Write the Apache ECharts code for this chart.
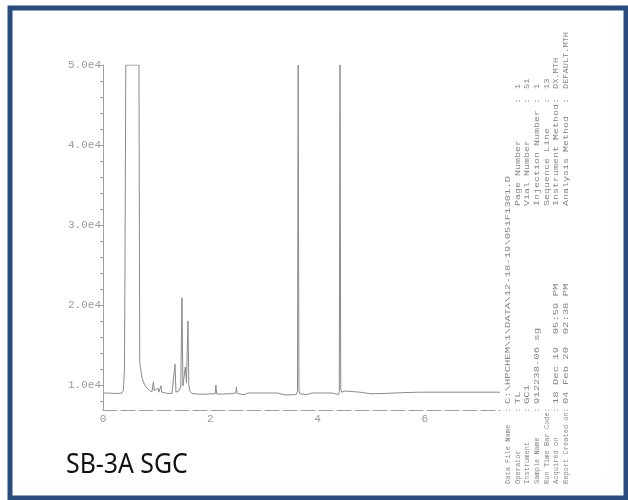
<!DOCTYPE html>
<html>
<head>
<meta charset="utf-8">
<script src="https://cdn.jsdelivr.net/npm/echarts@6/dist/echarts.min.js"></script>
<style>
  html, body { margin: 0; padding: 0; background: #ffffff; }
  #chart { width: 628px; height: 500px; }
</style>
</head>
<body>
<div id="chart"></div>
<script>
// Retention time (min) and detector response of the run
const retentionTime = [
  0.00, 0.10, 0.20, 0.30, 0.354, 0.38, 0.40, 0.41, 0.425, 0.671,
  0.678, 0.685, 0.695, 0.708, 0.725, 0.746, 0.78, 0.82, 0.87, 0.913,
  0.93, 0.94, 0.955, 0.99, 1.025, 1.04, 1.07, 1.081, 1.095, 1.118,
  1.20, 1.286, 1.32, 1.342, 1.36, 1.39, 1.42, 1.45, 1.472, 1.49,
  1.51, 1.534, 1.556, 1.584, 1.60, 1.622, 1.66, 1.70, 1.715, 1.73,
  1.808, 1.90, 1.994, 2.09, 2.105, 2.118, 2.20, 2.30, 2.367, 2.475,
  2.487, 2.50, 2.56, 2.65, 2.70, 2.72, 2.80, 2.82, 2.95, 2.97,
  3.10, 3.12, 3.25, 3.27, 3.40, 3.60, 3.625, 3.638, 3.652, 3.67,
  3.80, 3.895, 3.91, 4.08, 4.095, 4.27, 4.285, 4.39, 4.405, 4.418,
  4.432, 4.45, 4.51, 4.53, 4.60, 4.62, 4.70, 4.72, 4.79, 4.81,
  5.00, 5.26, 5.60, 5.91, 6.30, 6.65, 7.00, 7.40
];
const response = [
  9000, 9000, 8950, 8950, 9000, 9300, 12000, 25000, 50000, 50000,
  30000, 12800, 12250, 11800, 11000, 10500, 10000, 9600, 9300, 9150,
  9300, 10400, 9300, 9150, 9600, 9100, 9100, 9900, 9100, 9000,
  8950, 8950, 9100, 12600, 9100, 9000, 9300, 9800, 20900, 9900,
  9750, 12250, 10250, 18000, 10000, 9200, 8950, 8900, 9100, 8900,
  8850, 8850, 8900, 8900, 10000, 8900, 8850, 8900, 8900, 9000,
  9750, 8950, 8850, 8800, 9000, 8800, 9000, 8800, 9000, 8800,
  9000, 8800, 9000, 8800, 8750, 8800, 9200, 50000, 9300, 8900,
  8800, 9000, 8800, 9000, 8800, 9000, 8750, 8800, 9200, 50000,
  9400, 9100, 9250, 9000, 9200, 9000, 9150, 8950, 9100, 8950,
  8900, 8950, 9050, 9100, 9100, 9100, 9100, 9100
];

// Axis ticks and labels
const xTickValues = [0, 2, 4, 6];
const yLabelValues = [10000, 20000, 30000, 40000, 50000];
const yLabelText = ['1.0e4', '2.0e4', '3.0e4', '4.0e4', '5.0e4'];
const yMinorTicks = [8000, 10000, 12000, 14000, 16000, 18000, 20000, 22000, 24000, 26000,
  28000, 30000, 32000, 34000, 36000, 38000, 40000, 42000, 44000, 46000, 48000, 50000];

// Report header printed beside the trace (two columns of field : value)
const fileLabels = ['Data File Name', 'Operator', 'Instrument', 'Sample Name',
  'Run Time Bar Code', 'Acquired on', 'Report Created on'];
const fileValues = ['C:\\HPCHEM\\1\\DATA\\12-18-19\\051F1301.D', 'TL', 'GC1', '912238-06 sg',
  '', '18 Dec 19  05:59 PM', '04 Feb 20  02:38 PM'];
const runLabels = ['Page Number', 'Vial Number', 'Injection Number', 'Sequence Line',
  'Instrument Method', 'Analysis Method'];
const runValues = ['1', '51', '1', '13', 'DX.MTH', 'DEFAULT.MTH'];
const sampleTitle = 'SB-3A SGC';

const chart = echarts.init(document.getElementById('chart'), null, { renderer: 'canvas' });

const traceColor = '#8a8a8a';
const axisColor = '#a0a0a0';
const headerColor = '#868686';
const monoFont = '"Liberation Mono", "DejaVu Sans Mono", monospace';

// One rotated run of text, read bottom-to-top, stretched along its reading direction
function headerText(text, lineIndex, yStart, fontSize, stretch) {
  return {
    type: 'text',
    x: 508 + lineIndex * 9.6,
    y: yStart,
    rotation: Math.PI / 2,
    scaleX: stretch,
    silent: true,
    style: {
      text: text,
      fill: headerColor,
      font: fontSize + 'px ' + monoFont,
      align: 'left',
      verticalAlign: 'middle'
    }
  };
}

const headerGraphics = [];
fileLabels.forEach((label, i) => {
  headerGraphics.push(headerText(label.padEnd(17, ' ') + ':', i, 484, 8, 0.88));
  if (fileValues[i]) headerGraphics.push(headerText(fileValues[i], i, 404, 8, 1.32));
});
runLabels.forEach((label, j) => {
  const line = j + 1;
  headerGraphics.push(headerText(label.padEnd(17, ' ') + ':', line, 206, 8, 1.25));
  headerGraphics.push(headerText(runValues[j], line, 89, 8, 1.08));
});

chart.setOption({
  animation: false,
  backgroundColor: '#ffffff',
  grid: { left: 103, right: 128, top: 65, bottom: 90 },
  xAxis: {
    type: 'value',
    min: 0,
    max: 7.4,
    interval: 2,
    axisLine: { show: true, lineStyle: { color: axisColor, width: 1, type: [14, 4] } },
    axisTick: { show: false },
    splitLine: { show: false },
    axisLabel: {
      customValues: xTickValues,
      color: '#9a9a9a',
      fontFamily: monoFont,
      fontSize: 11,
      margin: 4
    }
  },
  yAxis: {
    type: 'value',
    min: 6875,
    max: 50000,
    axisLine: { show: true, lineStyle: { color: axisColor, width: 1 } },
    axisTick: { show: true, customValues: yMinorTicks, length: 3, lineStyle: { color: axisColor } },
    splitLine: { show: false },
    axisLabel: {
      customValues: yLabelValues,
      formatter: (v) => yLabelText[yLabelValues.indexOf(v)],
      color: '#9a9a9a',
      fontFamily: monoFont,
      fontSize: 11,
      margin: 2
    }
  },
  series: [{
    type: 'line',
    data: retentionTime.map((t, i) => [t, response[i]]),
    showSymbol: false,
    symbol: 'none',
    clip: true,
    lineStyle: { color: traceColor, width: 1 }
  }],
  graphic: [
    {
      type: 'rect',
      silent: true,
      shape: { x: 10, y: 8, width: 616, height: 490 },
      style: { fill: 'none', stroke: '#274d7f', lineWidth: 5 }
    },
    {
      type: 'text',
      x: 66,
      y: 465,
      silent: true,
      scaleX: 0.92,
      style: {
        text: sampleTitle,
        fill: '#111111',
        font: '27px "Noto Sans", sans-serif',
        align: 'left',
        verticalAlign: 'middle'
      }
    }
  ].concat(headerGraphics)
});
</script>
</body>
</html>
